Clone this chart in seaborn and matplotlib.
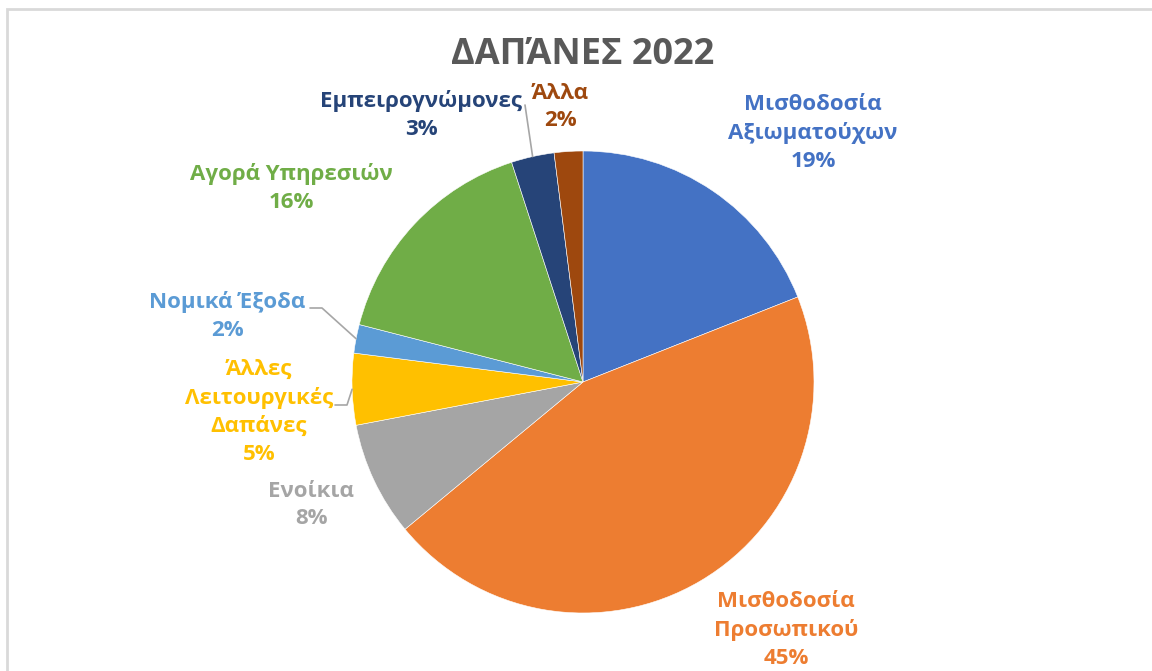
import numpy as np
import seaborn as sns
import matplotlib.pyplot as plt
from matplotlib.patches import Rectangle

# data
categories = ["Μισθοδοσία\nΑξιωματούχων", "Μισθοδοσία\nΠροσωπικού", "Ενοίκια",
              "Άλλες\nΛειτουργικές\nΔαπάνες", "Νομικά Έξοδα", "Αγορά Υπηρεσιών",
              "Εμπειρογνώμονες", "Άλλα"]
shares = [19, 45, 8, 5, 2, 16, 3, 2]
title = "ΔΑΠΆΝΕΣ 2022"

colors = ["#4472C4", "#ED7D31", "#A5A5A5", "#FFC000",
          "#5B9BD5", "#70AD47", "#264478", "#9E480E"]

# layout in pixel coords (y from top)
W, H = 1152, 671
cx, cy, R = 583, 382, 231
label_pos = [(813, 133), (786, 630), (311, 505), (259, 412),
             (227, 316), (291, 188), (421, 115), (560, 107)]
# leader lines: index -> start points (pixels) before reaching the slice
leaders = {3: [(335, 405), (347, 405)], 4: [(310, 308), (322, 308)], 6: [(525, 105)]}

sns.set_theme(style="white")
plt.rcParams['font.family'] = ['Open Sans', 'DejaVu Sans']

fig = plt.figure(figsize=(W / 100, H / 100), dpi=100)
ax = fig.add_axes([0, 0, 1, 1])

pal = sns.color_palette(colors)
wedges, _ = ax.pie(shares, colors=pal, startangle=90, counterclock=False,
                   center=(cx, H - cy), radius=R, frame=True,
                   wedgeprops=dict(edgecolor="white", linewidth=0.4))
ax.set_xlim(0, W)
ax.set_ylim(0, H)
ax.set_aspect("equal")
ax.axis("off")

for i, (name, val) in enumerate(zip(categories, shares)):
    x, y = label_pos[i]
    ax.text(x, H - y, f"{name}\n{val}%", ha="center", va="center",
            multialignment="center", color=colors[i], fontsize=16,
            fontweight="bold", linespacing=1.42)
    if i in leaders:
        w = wedges[i]
        mid = np.deg2rad((w.theta1 + w.theta2) / 2)
        pts = [(px, H - py) for px, py in leaders[i]]
        pts.append((cx + R * np.cos(mid), H - cy + R * np.sin(mid)))
        xs, ys = zip(*pts)
        ax.plot(xs, ys, color="#A6A6A6", lw=1.2)

ax.text(583, H - 55, title, ha="center", va="center", fontsize=26,
        fontweight="bold", color="#595959")

# chart frame (partially cropped)
fig.patches.append(Rectangle((7 / W, -0.1), 1.2, 1 - 9 / H + 0.1,
                             transform=fig.transFigure, fill=False,
                             edgecolor="#D9D9D9", lw=2))

fig.savefig("out.png", dpi=100)
